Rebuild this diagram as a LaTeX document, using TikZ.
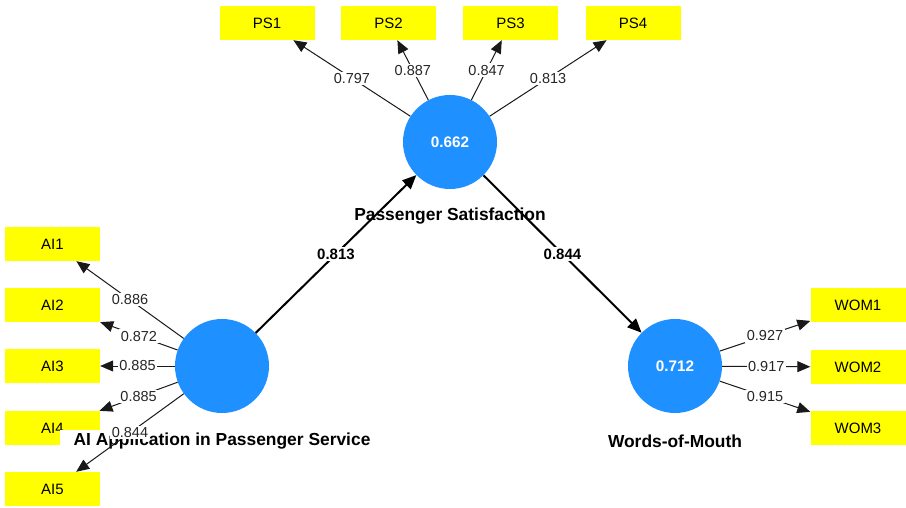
\documentclass[tikz,border=0pt]{standalone}
\usepackage{fontspec}
\setmainfont{Liberation Sans}
\usetikzlibrary{arrows.meta}
\definecolor{lvblue}{HTML}{1E90FF}
\definecolor{mvyellow}{HTML}{FFFF00}
\begin{document}
\begin{tikzpicture}[x=1pt,y=-1pt,
  mv/.style={fill=mvyellow, minimum width=95pt, minimum height=34pt, inner sep=0pt, font=\fontsize{15}{18}\selectfont},
  lv/.style={circle, fill=lvblue, minimum size=94pt, inner sep=0pt, text=white, font=\bfseries\fontsize{15.3}{18}\selectfont},
  lvname/.style={fill=white, inner xsep=14pt, inner ysep=3pt, font=\bfseries\fontsize{17.4}{20}\selectfont},
  load/.style={draw=black!90, line width=1pt, -{Triangle[length=13pt,width=11pt]}},
  structpath/.style={draw=black, line width=2pt, -{Triangle[length=14pt,width=12pt]}},
  lab/.style={fill=white, inner sep=1.5pt, text=black!85, font=\fontsize{14.5}{17}\selectfont},
  plab/.style={fill=white, inner sep=2pt, font=\bfseries\fontsize{15}{18}\selectfont}]
\useasboundingbox (0,0) rectangle (906,508);
\fill[white] (0,0) rectangle (906,508);
% indicator boxes
\node[mv] (PS1) at (267,23) {PS1};
\node[mv] (PS2) at (388.5,23) {PS2};
\node[mv] (PS3) at (510.5,23) {PS3};
\node[mv] (PS4) at (633,23) {PS4};
\node[mv] (AI1) at (52.5,244) {AI1};
\node[mv] (AI2) at (52.5,305) {AI2};
\node[mv] (AI3) at (52.5,366) {AI3};
\node[mv] (AI4) at (52.5,428) {AI4};
\node[mv] (AI5) at (52.5,489) {AI5};
\node[mv] (WOM1) at (858,305) {WOM1};
\node[mv] (WOM2) at (858,367) {WOM2};
\node[mv] (WOM3) at (858,428) {WOM3};
% construct names
\node[lvname] (PSn) at (450,216) {Passenger Satisfaction};
\node[lvname] (AIn) at (222,441) {AI Application in Passenger Service};
\node[lvname] (WOMn) at (675,441) {Words-of-Mouth};
% constructs
\node[lv] (PS) at (450,142) {0.662};
\node[lv] (AI) at (222,366) {};
\node[lv] (WOM) at (675,366) {0.712};
% loadings
\draw[load] (PS) -- node[lab]{0.797} (PS1);
\draw[load] (PS) -- node[lab]{0.887} (PS2);
\draw[load] (PS) -- node[lab]{0.847} (PS3);
\draw[load] (PS) -- node[lab]{0.813} (PS4);
\draw[load] (AI) -- node[lab]{0.886} (AI1);
\draw[load] (AI) -- node[lab]{0.872} (AI2);
\draw[load] (AI) -- node[lab]{0.885} (AI3);
\draw[load] (AI) -- node[lab]{0.885} (AI4);
\draw[load] (AI) -- node[lab]{0.844} (AI5);
\draw[load] (WOM) -- node[lab]{0.927} (WOM1);
\draw[load] (WOM) -- node[lab]{0.917} (WOM2);
\draw[load] (WOM) -- node[lab]{0.915} (WOM3);
% structural paths
\draw[structpath] (AI) -- node[plab]{0.813} (PS);
\draw[structpath] (PS) -- node[plab]{0.844} (WOM);
\end{tikzpicture}
\end{document}
